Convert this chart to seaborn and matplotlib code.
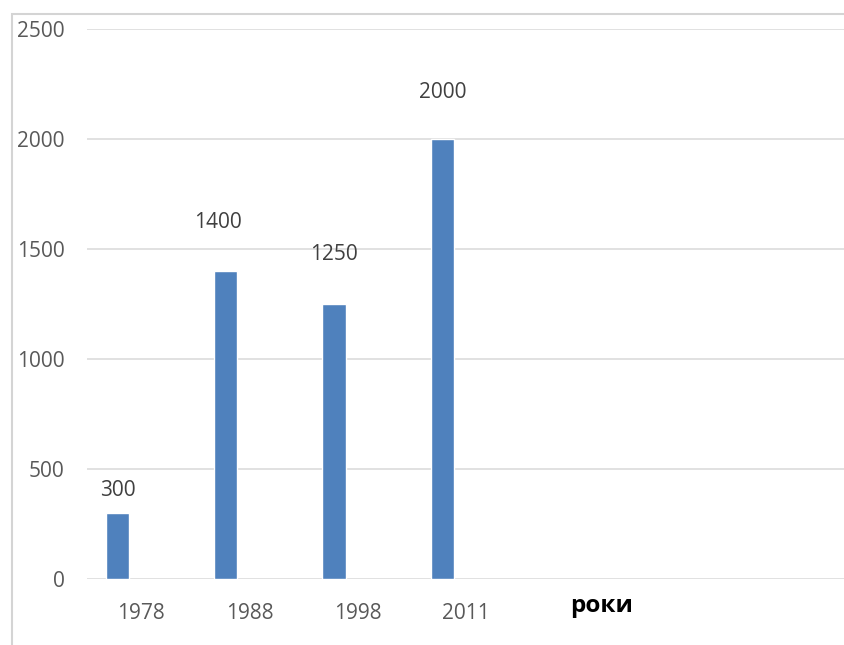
import matplotlib
matplotlib.use("Agg")
import matplotlib.pyplot as plt
from matplotlib.patches import Rectangle
import seaborn as sns
import pandas as pd
import numpy as np

years = ["1978", "1988", "1998", "2011"]
values = [300, 1400, 1250, 2000]
yticks = [0, 500, 1000, 1500, 2000, 2500]
x_title = "роки"
# label offsets (pixels) relative to bar top centre
label_dx = [0, -8, 0, 0]
label_dy = [23, 49, 49, 46]

sns.set_theme(style="white")
plt.rcParams['font.family'] = ['Open Sans', 'DejaVu Sans']

df = pd.DataFrame({"year": years, "value": values})

fig = plt.figure(figsize=(8.45, 6.45), dpi=100)
ax = fig.add_axes([87 / 845, 1 - 579 / 645, (845 - 87) / 845, (579 - 29) / 645])

sns.barplot(data=df, x="year", y="value", order=years, width=0.215,
            color="#4f81bd", saturation=1, ax=ax)

shift = 0.218
ax.set_xlim(-0.5 + shift, 6.5 + shift)
ax.set_ylim(0, 2500)
ax.set_xticks(np.arange(len(years)) + shift)
ax.set_xticklabels(years)
ax.set_yticks(yticks)
ax.set_yticklabels([str(t) for t in yticks])
ax.grid(axis="y", color="#d9d9d9", linewidth=1.1)
ax.grid(axis="x", visible=False)
ax.set_axisbelow(True)
for s in ax.spines.values():
    s.set_visible(False)
ax.tick_params(axis="both", length=0, colors="#595959", labelsize=15)
ax.tick_params(axis="x", pad=17)
ax.tick_params(axis="y", pad=16)
ax.set_xlabel("")
ax.set_ylabel("")

bars = [p for p in ax.patches if p.get_height() > 0]
bars.sort(key=lambda p: p.get_x())
for p, v, dx, dy in zip(bars, values, label_dx, label_dy):
    ax.annotate(str(v), (p.get_x() + p.get_width() / 2, p.get_height()),
                xytext=(dx, dy), textcoords="offset pixels",
                ha="center", va="center", fontsize=15, color="#404040")

fig.text(602 / 845, 1 - 606 / 645, x_title, ha="center", va="center",
         fontsize=17.5, fontweight="bold", color="black")

fig.add_artist(Rectangle((12 / 845, -0.1), 1.2, 1 - 14 / 645 + 0.1, transform=fig.transFigure,
                         fill=False, edgecolor="#d4d4d4", linewidth=1.5))

fig.savefig("out.png", dpi=100)
